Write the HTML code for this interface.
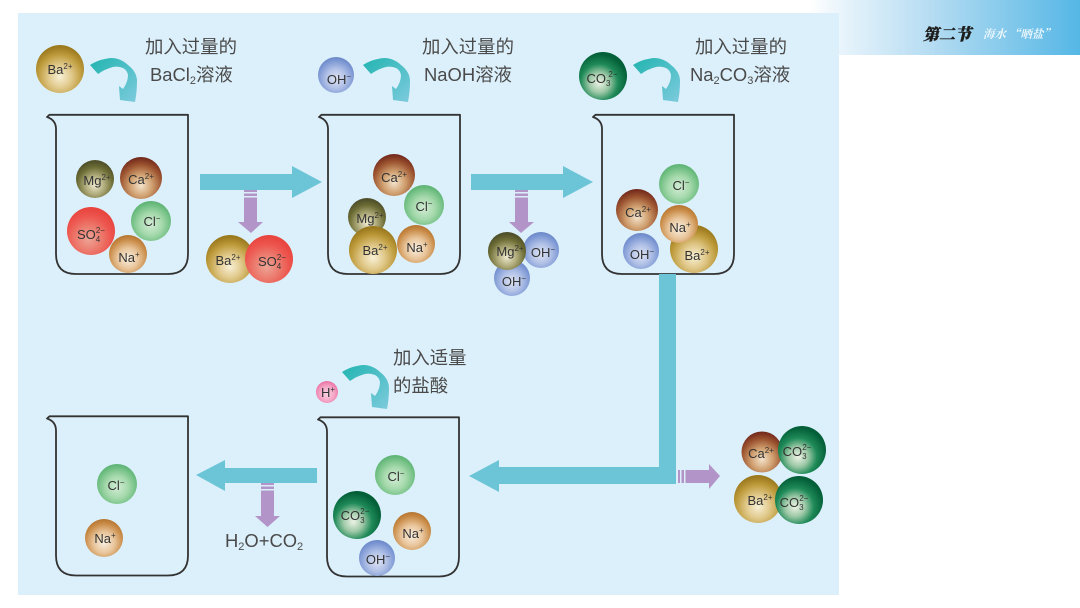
<!DOCTYPE html>
<html lang="zh"><head><meta charset="utf-8"><title>粗盐提纯</title>
<style>
html,body{margin:0;padding:0;background:#fff;width:1080px;height:608px;overflow:hidden}
svg{display:block}
.l{font-family:"Liberation Sans",sans-serif;font-size:13px;fill:#333;text-anchor:middle}
.l tspan{font-size:8px}
.t{font-family:"Liberation Sans","Noto Sans CJK SC",sans-serif;font-size:18.400px;fill:#4a4a4a}
.t tspan{font-size:11px}
</style></head><body>
<svg width="1080" height="608" viewBox="0 0 1080 608" xmlns="http://www.w3.org/2000/svg">
<defs>
<linearGradient id="hd" gradientUnits="userSpaceOnUse" x1="810" y1="0" x2="1080" y2="0"><stop offset="0" stop-color="#fff"/><stop offset=".13" stop-color="#e6f3fb"/><stop offset=".45" stop-color="#b5dcf2"/><stop offset="1" stop-color="#55b7e5"/></linearGradient>
<radialGradient id="ba" cx=".5" cy=".66" r=".62"><stop offset="0" stop-color="#f8f1d6"/><stop offset=".4" stop-color="#e0c88a"/><stop offset=".75" stop-color="#bd9a3a"/><stop offset="1" stop-color="#9c7a1e"/></radialGradient>
<radialGradient id="mg" cx=".5" cy=".66" r=".62"><stop offset="0" stop-color="#eeeacf"/><stop offset=".4" stop-color="#b0ac7c"/><stop offset=".75" stop-color="#6d6d36"/><stop offset="1" stop-color="#50502a"/></radialGradient>
<radialGradient id="ca" cx=".5" cy=".68" r=".66"><stop offset="0" stop-color="#f3e3cc"/><stop offset=".4" stop-color="#d0a070"/><stop offset=".75" stop-color="#9c5430"/><stop offset="1" stop-color="#742a1c"/></radialGradient>
<radialGradient id="so" cx=".45" cy=".66" r=".62"><stop offset="0" stop-color="#eda496"/><stop offset=".4" stop-color="#ec7d70"/><stop offset=".75" stop-color="#ed564f"/><stop offset="1" stop-color="#e8463f"/></radialGradient>
<radialGradient id="cl" cx=".5" cy=".58" r=".62"><stop offset="0" stop-color="#d3ecd5"/><stop offset=".45" stop-color="#a5d9ac"/><stop offset=".8" stop-color="#6dbd80"/><stop offset="1" stop-color="#52ac6c"/></radialGradient>
<radialGradient id="na" cx=".5" cy=".62" r=".62"><stop offset="0" stop-color="#faf0e0"/><stop offset=".45" stop-color="#e8c49a"/><stop offset=".8" stop-color="#c98c48"/><stop offset="1" stop-color="#b4742e"/></radialGradient>
<radialGradient id="oh" cx=".5" cy=".6" r=".62"><stop offset="0" stop-color="#dfe4f4"/><stop offset=".45" stop-color="#b0c0e6"/><stop offset=".8" stop-color="#7d98d4"/><stop offset="1" stop-color="#6683c4"/></radialGradient>
<radialGradient id="co" cx=".42" cy=".64" r=".6"><stop offset="0" stop-color="#eef3e6"/><stop offset=".35" stop-color="#9cc8a6"/><stop offset=".65" stop-color="#1f8a58"/><stop offset="1" stop-color="#035f38"/></radialGradient>
<radialGradient id="h" cx=".5" cy=".58" r=".6"><stop offset="0" stop-color="#f9d6e4"/><stop offset=".6" stop-color="#f3a0c2"/><stop offset="1" stop-color="#ea6ca2"/></radialGradient>
<linearGradient id="cv" x1="0" y1="0" x2="1" y2="1"><stop offset="0" stop-color="#22b4b0"/><stop offset="1" stop-color="#7dcbdd"/></linearGradient>
<path id="b" d="M47 117 L49.500 114.800 L188 114.800 L188 254 Q188 274 168 274 L76 274 Q56 274 56 254 L56 129 Q56 120 47 117 Z" fill="none" stroke="#333" stroke-width="1.800" stroke-linejoin="round"/>
<path id="c" d="M90 65 Q98 60 105 59 Q112 57 118 59 Q124 61 128 65 Q137 72 137 81 Q137 92 135 102 L120 100 L119 86 L123 89 Q128 82 128 75 Q127 70 123 68 Q118 66 113 67 Q105 69 98 74 Z" fill="url(#cv)"/>
</defs>

<rect x="810" y="0" width="270" height="55" fill="url(#hd)"/>
<rect x="18" y="13" width="821" height="582" fill="#dcf0fb"/>

<text x="923" y="40" font-family="'Noto Serif CJK SC',serif" font-size="16" font-weight="900" font-style="italic" fill="#1c1c1c" stroke="#1c1c1c" stroke-width=".4">第二节</text>
<text x="983" y="38" font-family="'Noto Serif CJK SC',serif" font-size="11.500" font-weight="700" font-style="italic" fill="#fff" fill-opacity=".85">海水 “晒盐”</text>

<use href="#b"/>
<use href="#b" x="272"/>
<use href="#b" x="546"/>
<use href="#b" y="301.500"/>
<use href="#b" x="271" y="302.500"/>

<use href="#c"/>
<use href="#c" x="273"/>
<use href="#c" x="543"/>
<use href="#c" x="252" y="307"/>

<g fill="#6cc5d6">
<path d="M200 174H292V166L322 182 292 198V190H200Z"/>
<path d="M471 174H563V166L593 182 563 198V190H471Z"/>
<path d="M659 274H676V484H499V492L469 476 499 460V467H659Z"/>
<path d="M317 468H225V460L196 475 225 491V483H317Z"/>
</g>

<g fill="#b394c8">
<path d="M244 190H257V222H263L251 233 238 222H244Z"/>
<path d="M515 190H528V222H534L521 233 509 222H515Z"/>
<path d="M261 483H274V516H280L267.500 527 255 516H261Z"/>
<path d="M678 470H709V464L720 476 709 489V483H678Z"/>
</g>
<g fill="#dcf0fb">
<rect x="244" y="192" width="13" height="1.500"/><rect x="244" y="196" width="13" height="1.500"/>
<rect x="515" y="192" width="13" height="1.500"/><rect x="515" y="196" width="13" height="1.500"/>
<rect x="261" y="485" width="13" height="1.500"/><rect x="261" y="489" width="13" height="1.500"/>
<rect x="680" y="470" width="1.500" height="13"/><rect x="684" y="470" width="1.500" height="13"/>
</g>

<text class="t" x="145" y="53">加入过量的</text>
<text class="t" x="150" y="81">BaCl<tspan dy="3">2</tspan><tspan dy="-3" style="font-size:18.400px">溶液</tspan></text>
<text class="t" x="422" y="53">加入过量的</text>
<text class="t" x="424" y="81">NaOH溶液</text>
<text class="t" x="695" y="53">加入过量的</text>
<text class="t" x="690" y="81">Na<tspan dy="3">2</tspan><tspan dy="-3" style="font-size:18.400px">CO</tspan><tspan dy="3">3</tspan><tspan dy="-3" style="font-size:18.400px">溶液</tspan></text>
<text class="t" x="393" y="364">加入适量</text>
<text class="t" x="393" y="392">的盐酸</text>
<text class="t" x="225" y="547">H<tspan dy="3">2</tspan><tspan dy="-3" style="font-size:18.400px">O+CO</tspan><tspan dy="3">2</tspan></text>

<!-- panel 1 -->
<circle cx="60" cy="69" r="24" fill="url(#ba)"/><text class="l" x="60" y="74">Ba<tspan dy="-5">2+</tspan></text>
<circle cx="95" cy="179" r="19" fill="url(#mg)"/><text class="l" x="97" y="185">Mg<tspan dy="-5">2+</tspan></text>
<circle cx="141" cy="178" r="21" fill="url(#ca)"/><text class="l" x="141" y="184">Ca<tspan dy="-5">2+</tspan></text>
<circle cx="91" cy="231" r="24" fill="url(#so)"/><text class="l" x="91" y="239">SO<tspan dy="3">4</tspan><tspan dy="-9" dx="-4.400">2−</tspan></text>
<circle cx="151" cy="221" r="20" fill="url(#cl)"/><text class="l" x="152" y="226">Cl<tspan dy="-5">−</tspan></text>
<circle cx="128" cy="254" r="19" fill="url(#na)"/><text class="l" x="129" y="262">Na<tspan dy="-5">+</tspan></text>
<circle cx="230" cy="259" r="24" fill="url(#ba)"/><text class="l" x="228" y="265">Ba<tspan dy="-5">2+</tspan></text>
<circle cx="269" cy="259" r="24" fill="url(#so)"/><text class="l" x="272" y="266">SO<tspan dy="3">4</tspan><tspan dy="-9" dx="-4.400">2−</tspan></text>

<!-- panel 2 -->
<circle cx="336" cy="75" r="18" fill="url(#oh)"/><text class="l" x="339" y="84">OH<tspan dy="-5">−</tspan></text>
<circle cx="394" cy="175" r="21" fill="url(#ca)"/><text class="l" x="394" y="182">Ca<tspan dy="-5">2+</tspan></text>
<circle cx="424" cy="205" r="20" fill="url(#cl)"/><text class="l" x="424" y="211">Cl<tspan dy="-5">−</tspan></text>
<circle cx="367" cy="217" r="19" fill="url(#mg)"/><text class="l" x="370" y="223">Mg<tspan dy="-5">2+</tspan></text>
<circle cx="373" cy="250" r="24" fill="url(#ba)"/><text class="l" x="375" y="255">Ba<tspan dy="-5">2+</tspan></text>
<circle cx="416" cy="244" r="19" fill="url(#na)"/><text class="l" x="417" y="252">Na<tspan dy="-5">+</tspan></text>
<circle cx="541" cy="250" r="18" fill="url(#oh)"/><text class="l" x="543" y="257">OH<tspan dy="-5">−</tspan></text>
<circle cx="512" cy="278" r="18" fill="url(#oh)"/><text class="l" x="514" y="286">OH<tspan dy="-5">−</tspan></text>
<circle cx="507" cy="251" r="19" fill="url(#mg)"/><text class="l" x="510" y="256">Mg<tspan dy="-5">2+</tspan></text>

<!-- panel 3 -->
<circle cx="603" cy="76" r="24" fill="url(#co)"/><text class="l" x="602" y="83">CO<tspan dy="3">3</tspan><tspan dy="-9" dx="-2">2−</tspan></text>
<circle cx="679" cy="184" r="20" fill="url(#cl)"/><text class="l" x="681" y="190">Cl<tspan dy="-5">−</tspan></text>
<circle cx="637" cy="210" r="21" fill="url(#ca)"/><text class="l" x="638" y="217">Ca<tspan dy="-5">2+</tspan></text>
<circle cx="694" cy="249" r="24" fill="url(#ba)"/><text class="l" x="697" y="260">Ba<tspan dy="-5">2+</tspan></text>
<circle cx="679" cy="224" r="19" fill="url(#na)"/><text class="l" x="680" y="232">Na<tspan dy="-5">+</tspan></text>
<circle cx="641" cy="251" r="18" fill="url(#oh)"/><text class="l" x="642" y="259">OH<tspan dy="-5">−</tspan></text>

<!-- panel 5 -->
<circle cx="327" cy="392" r="11" fill="url(#h)"/><text class="l" x="328" y="397">H<tspan dy="-5">+</tspan></text>
<circle cx="395" cy="475" r="20" fill="url(#cl)"/><text class="l" x="396" y="481">Cl<tspan dy="-5">−</tspan></text>
<circle cx="357" cy="515" r="24" fill="url(#co)"/><text class="l" x="355" y="520">CO<tspan dy="3">3</tspan><tspan dy="-9" dx="-4.400">2−</tspan></text>
<circle cx="412" cy="531" r="19" fill="url(#na)"/><text class="l" x="413" y="538">Na<tspan dy="-5">+</tspan></text>
<circle cx="377" cy="558" r="18" fill="url(#oh)"/><text class="l" x="378" y="564">OH<tspan dy="-5">−</tspan></text>

<!-- panel 4 -->
<circle cx="117" cy="484" r="20" fill="url(#cl)"/><text class="l" x="116" y="490">Cl<tspan dy="-5">−</tspan></text>
<circle cx="104" cy="538" r="19" fill="url(#na)"/><text class="l" x="105" y="543">Na<tspan dy="-5">+</tspan></text>

<!-- right group -->
<circle cx="762" cy="452" r="20.500" fill="url(#ca)"/><text class="l" x="761" y="458">Ca<tspan dy="-5">2+</tspan></text>
<circle cx="802" cy="450" r="24" fill="url(#co)"/><text class="l" x="797" y="456">CO<tspan dy="3">3</tspan><tspan dy="-9" dx="-4.400">2−</tspan></text>
<circle cx="758" cy="499" r="24" fill="url(#ba)"/><text class="l" x="760" y="505">Ba<tspan dy="-5">2+</tspan></text>
<circle cx="799" cy="500" r="24" fill="url(#co)"/><text class="l" x="794" y="507">CO<tspan dy="3">3</tspan><tspan dy="-9" dx="-4.400">2−</tspan></text>
</svg>
</body></html>
